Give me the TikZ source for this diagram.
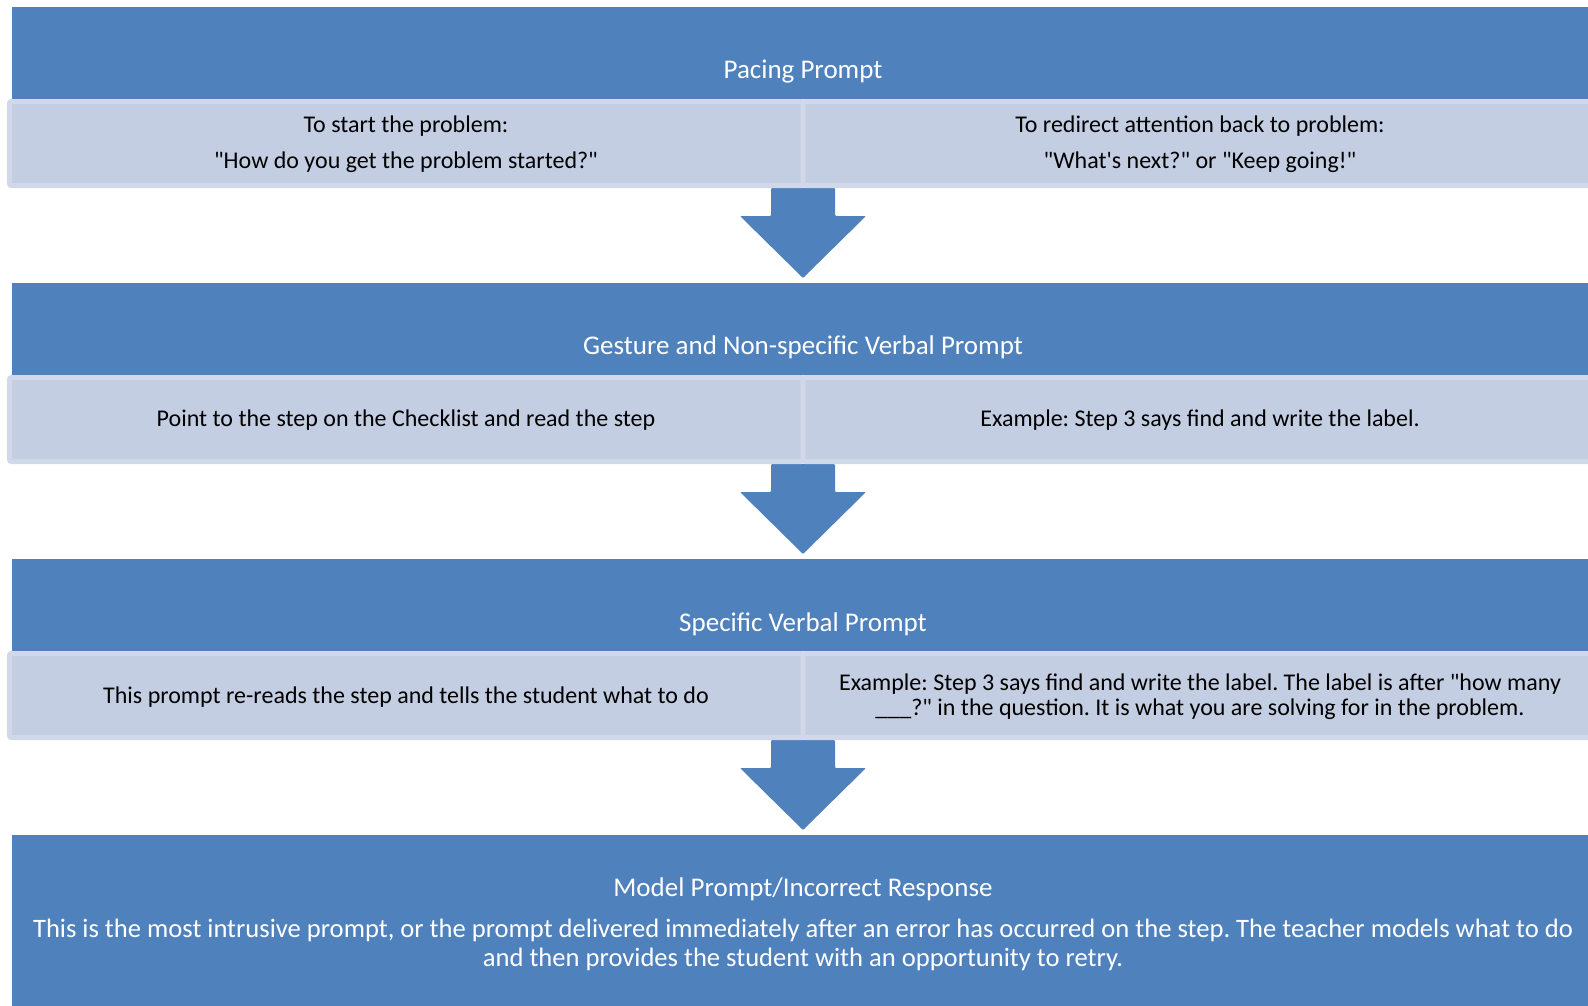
\documentclass[tikz,border=0pt]{standalone}
\usepackage{fontspec}
\setmainfont{Carlito}
\frenchspacing
\newcommand{\dq}{\textquotedbl}
\newcommand{\sq}{\textquotesingle}
\definecolor{hdrblue}{RGB}{79,129,189}
\definecolor{cellfill}{RGB}{195,206,227}
\definecolor{cellline}{RGB}{208,216,233}
\begin{document}
\begin{tikzpicture}[x=1pt,y=-1pt,
  bar/.style={fill=hdrblue, draw=none, anchor=north west, inner sep=0pt, outer sep=0pt, minimum width=1590pt, minimum height=92pt},
  cellbox/.style={fill=cellfill, draw=cellline, line width=5pt, rounded corners=2pt, anchor=north west, inner sep=0pt, outer sep=0pt, minimum height=84pt},
  htext/.style={text=white, font=\fontsize{27}{32}\selectfont, anchor=base, inner sep=0pt},
  btext/.style={text=white, font=\fontsize{26.6}{32}\selectfont, anchor=base, inner sep=0pt},
  ctext/.style={text=black, font=\fontsize{24}{29}\selectfont, anchor=base, inner sep=0pt},
  downarrow/.style={fill=hdrblue, draw=none, rounded corners=1pt}]
\useasboundingbox (0,0) rectangle (1588,1005);

% ---------- Section 1 ----------
\begin{scope}[yshift=-7pt]
  \node[bar] (b1) at (12,0) {};
  \fill[downarrow] (771,181) -- (835,181) -- (835,209) -- (866,209) -- (803,271) -- (740,209) -- (771,209) -- cycle;
  \node[cellbox, minimum width=793.5pt] (l1) at (9.5,94.5) {};
  \node[cellbox, minimum width=800pt] (r1) at (803,94.5) {};
  \node[htext] (t1) at (803,71) {Pacing Prompt};
  \node[ctext] (l1a) at (406,125) {To start the problem:};
  \node[ctext] (l1b) at (406,161) {\dq How do you get the problem started?\dq};
  \node[ctext] (r1a) at (1200,125) {To redirect attention back to problem:};
  \node[ctext] (r1b) at (1200,161) {\dq What\sq s next?\dq\ or \dq Keep going!\dq};
\end{scope}

% ---------- Section 2 ----------
\begin{scope}[yshift=-283pt]
  \node[bar] (b2) at (12,0) {};
  \fill[downarrow] (771,181) -- (835,181) -- (835,209) -- (866,209) -- (803,271) -- (740,209) -- (771,209) -- cycle;
  \node[cellbox, minimum width=793.5pt] (l2) at (9.5,94.5) {};
  \node[cellbox, minimum width=800pt] (r2) at (803,94.5) {};
  \node[htext] (t2) at (803,71) {Gesture and Non-specific Verbal Prompt};
  \node[ctext] (l2a) at (406,143) {Point to the step on the Checklist and read the step};
  \node[ctext] (r2a) at (1200,143) {Example: Step 3 says find and write the label.};
\end{scope}

% ---------- Section 3 ----------
\begin{scope}[yshift=-559pt]
  \node[bar] (b3) at (12,0) {};
  \fill[downarrow] (771,181) -- (835,181) -- (835,209) -- (866,209) -- (803,271) -- (740,209) -- (771,209) -- cycle;
  \node[cellbox, minimum width=793.5pt] (l3) at (9.5,94.5) {};
  \node[cellbox, minimum width=800pt] (r3) at (803,94.5) {};
  \node[htext] (t3) at (803,72) {Specific Verbal Prompt};
  \node[ctext] (l3a) at (406,144) {This prompt re-reads the step and tells the student what to do};
  \node[ctext] (r3a) at (1200,131) {Example: Step 3 says find and write the label. The label is after \dq how many};
  \node[ctext] (r3b) at (1200,156) {\_\_\_?\dq\ in the question. It is what you are solving for in the problem.};
\end{scope}

% ---------- Section 4 ----------
\begin{scope}[yshift=-835pt]
  \node[bar, minimum height=180pt] (b4) at (12,0) {};
  \node[htext] (t4) at (803,61) {Model Prompt/Incorrect Response};
  \node[btext] (t4a) at (803,102) {This is the most intrusive prompt, or the prompt delivered immediately after an error has occurred on the step. The teacher models what to do};
  \node[btext] (t4b) at (803,131) {and then provides the student with an opportunity to retry.};
\end{scope}
\end{tikzpicture}
\end{document}
